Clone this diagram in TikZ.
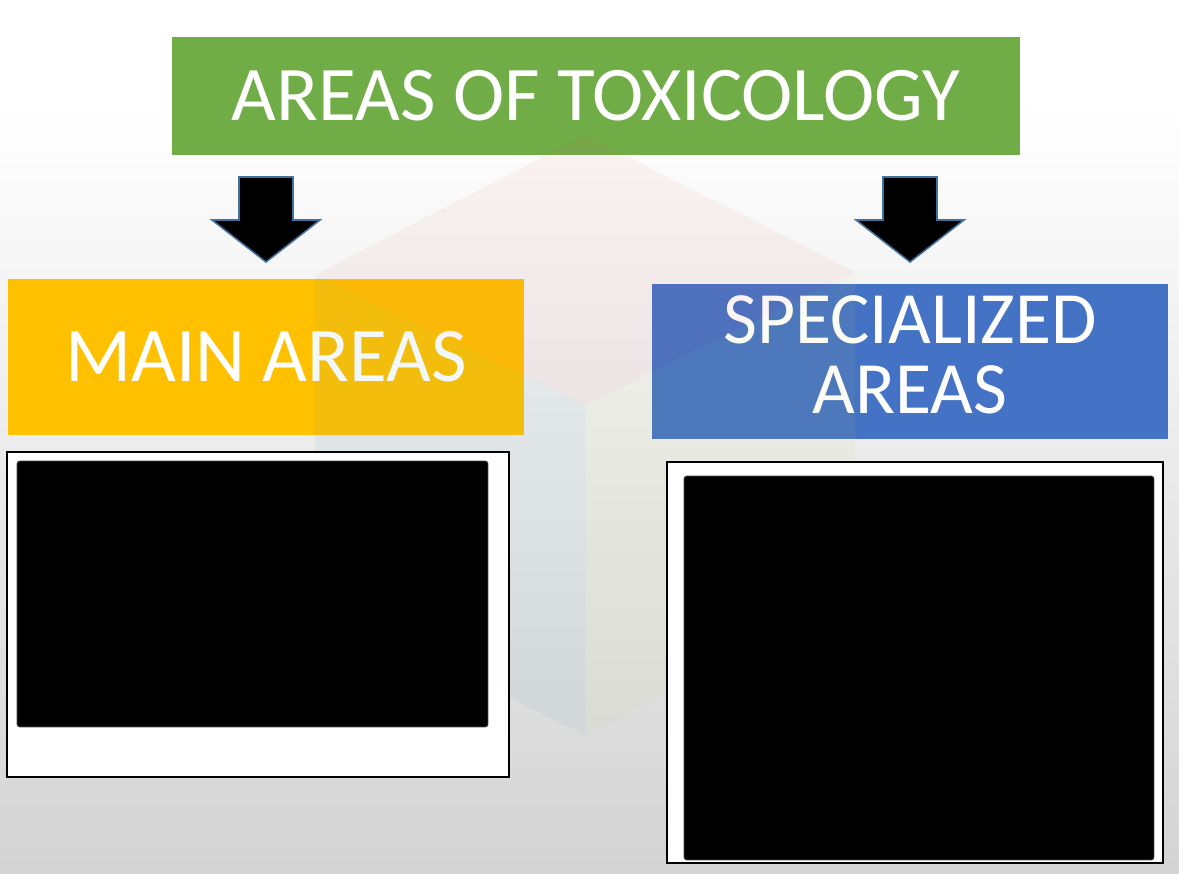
\documentclass[tikz,border=0pt]{standalone}
\usepackage{fontspec}
\setmainfont{Carlito}
\usetikzlibrary{positioning}
\definecolor{toxgreen}{RGB}{112, 173, 71}
\definecolor{toxgold}{RGB}{255, 192, 0}
\definecolor{toxblue}{RGB}{68, 114, 196}
\definecolor{arrowedge}{RGB}{65, 113, 156}
\definecolor{wmpink}{RGB}{224, 102, 102}
\definecolor{wmteal}{RGB}{79, 163, 184}
\definecolor{wmlime}{RGB}{200, 216, 96}

\begin{document}
\begin{tikzpicture}[
    x=0.02cm, y=-0.02cm,
    headr/.style={rectangle, fill=toxgreen, text=white, inner sep=0pt, minimum width=16.96cm, minimum height=2.36cm, font=\fontsize{44}{52}\selectfont},
    areabox/.style={rectangle, text=white, inner sep=0pt, minimum width=10.32cm, minimum height=3.12cm, align=center},
    frm/.style={rectangle, draw=black, line width=0.9pt, fill=white, inner sep=0pt},
    blk/.style={rectangle, fill=black, draw=black!70, line width=0.4pt, rounded corners=1.5pt, inner sep=0pt},
    downarr/.style={fill=black, draw=arrowedge, line width=0.9pt, line join=miter},
    wm/.style={fill opacity=0.07, draw=none}
]

  % slide background
  \fill[white] (0,0) rectangle (1179,100);
  \shade[top color=white, bottom color=gray!34] (0,100) rectangle (1179,873);
  \useasboundingbox (0,0) rectangle (1179,873);

  % title and the two area headers
  \node[headr] (title) at (596, 96) {AREAS OF TOXICOLOGY};
  \node[areabox, fill=toxgold, font=\fontsize{44}{52}\selectfont] (main) at (266, 357) {MAIN AREAS};
  \node[areabox, fill=toxblue, minimum height=3.10cm, text depth=8pt, font=\fontsize{42}{40}\selectfont] (spec) at (910, 361.5) {SPECIALIZED\\AREAS};

  % faint logo watermark
  \fill[wm, wmpink] (585,135) -- (855,272) -- (585,405) -- (315,275) -- cycle;
  \fill[wm, wmteal] (315,275) -- (585,405) -- (585,735) -- (315,602) -- cycle;
  \fill[wm, wmlime] (585,405) -- (855,272) -- (855,602) -- (585,735) -- cycle;

  % block arrows
  \foreach \ax in {266, 910}{
    \draw[downarr] (\ax-27,177) -- (\ax+27,177) -- (\ax+27,220) -- (\ax+54,220)
      -- (\ax,262) -- (\ax-54,220) -- (\ax-27,220) -- cycle;
  }

  % list frames
  \node[frm, minimum width=10.04cm, minimum height=6.5cm] (mainlist) at (258, 614.5) {};
  \node[blk, minimum width=9.42cm, minimum height=5.32cm] (mainblk) at (252.5, 594) {};
  \node[frm, minimum width=9.92cm, minimum height=8.02cm] (speclist) at (915, 662.5) {};
  \node[blk, minimum width=9.4cm, minimum height=7.68cm] (specblk) at (919, 668) {};
\end{tikzpicture}
\end{document}
